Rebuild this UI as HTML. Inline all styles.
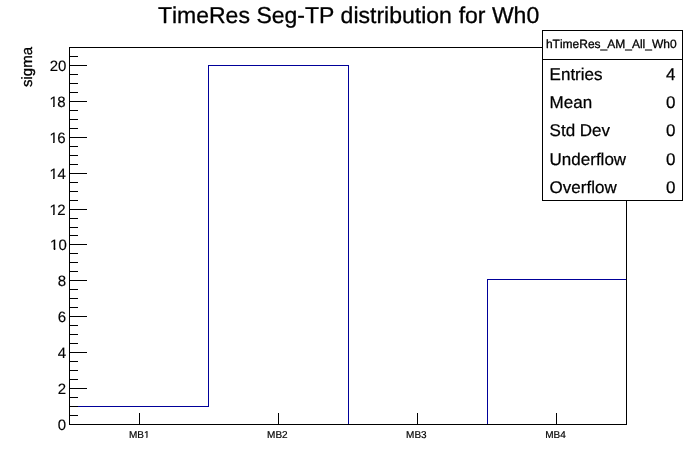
<!DOCTYPE html>
<html lang="en">
<head>
<meta charset="utf-8">
<title>TimeRes Seg-TP distribution for Wh0</title>
<style>
html,body{margin:0;padding:0;background:#fff;}
body{width:696px;height:472px;overflow:hidden;}
svg{display:block;will-change:transform;transform:translateZ(0);}
text{font-family:"Liberation Sans",sans-serif;fill:#000;text-rendering:geometricPrecision;font-kerning:none;stroke:#000;stroke-linejoin:round;stroke-width:0.3px;}
.t23{stroke-width:0.3px;}
.t17{stroke-width:0.25px;}
.t15{stroke-width:0.15px;}
.tsg{stroke-width:0.3px;}
.t12{stroke-width:0.3px;}
.t10{stroke-width:0.2px;}
.ln{fill:#000;shape-rendering:crispEdges;}
.hb{fill:#000099;shape-rendering:crispEdges;}
</style>
</head>
<body>
<svg width="696" height="472" viewBox="0 0 696 472">
<rect x="0" y="0" width="696" height="472" fill="#ffffff"/>
<g class="hb">
<rect x="69" y="406" width="140" height="1"/>
<rect x="208" y="65" width="1" height="342"/>
<rect x="208" y="65" width="141" height="1"/>
<rect x="348" y="65" width="1" height="360"/>
<rect x="487" y="279" width="1" height="146"/>
<rect x="487" y="279" width="140" height="1"/>
</g>
<g class="ln">
<rect x="69" y="47" width="558" height="1"/>
<rect x="69" y="424" width="558" height="1"/>
<rect x="69" y="47" width="1" height="378"/>
<rect x="626" y="47" width="1" height="378"/>
<rect x="69" y="415" width="9" height="1"/>
<rect x="69" y="406" width="9" height="1"/>
<rect x="69" y="397" width="9" height="1"/>
<rect x="69" y="388" width="18" height="1"/>
<rect x="69" y="379" width="9" height="1"/>
<rect x="69" y="370" width="9" height="1"/>
<rect x="69" y="361" width="9" height="1"/>
<rect x="69" y="352" width="18" height="1"/>
<rect x="69" y="343" width="9" height="1"/>
<rect x="69" y="334" width="9" height="1"/>
<rect x="69" y="325" width="9" height="1"/>
<rect x="69" y="316" width="18" height="1"/>
<rect x="69" y="307" width="9" height="1"/>
<rect x="69" y="298" width="9" height="1"/>
<rect x="69" y="289" width="9" height="1"/>
<rect x="69" y="280" width="18" height="1"/>
<rect x="69" y="271" width="9" height="1"/>
<rect x="69" y="262" width="9" height="1"/>
<rect x="69" y="253" width="9" height="1"/>
<rect x="69" y="244" width="18" height="1"/>
<rect x="69" y="235" width="9" height="1"/>
<rect x="69" y="227" width="9" height="1"/>
<rect x="69" y="218" width="9" height="1"/>
<rect x="69" y="209" width="18" height="1"/>
<rect x="69" y="200" width="9" height="1"/>
<rect x="69" y="191" width="9" height="1"/>
<rect x="69" y="182" width="9" height="1"/>
<rect x="69" y="173" width="18" height="1"/>
<rect x="69" y="164" width="9" height="1"/>
<rect x="69" y="155" width="9" height="1"/>
<rect x="69" y="146" width="9" height="1"/>
<rect x="69" y="137" width="18" height="1"/>
<rect x="69" y="128" width="9" height="1"/>
<rect x="69" y="119" width="9" height="1"/>
<rect x="69" y="110" width="9" height="1"/>
<rect x="69" y="101" width="18" height="1"/>
<rect x="69" y="92" width="9" height="1"/>
<rect x="69" y="83" width="9" height="1"/>
<rect x="69" y="74" width="9" height="1"/>
<rect x="69" y="65" width="18" height="1"/>
<rect x="69" y="56" width="9" height="1"/>
<rect x="139" y="413" width="1" height="12"/>
<rect x="278" y="413" width="1" height="12"/>
<rect x="417" y="413" width="1" height="12"/>
<rect x="556" y="413" width="1" height="12"/>
</g>
<rect x="542" y="30" width="141" height="171" fill="#ffffff"/>
<g class="ln">
<rect x="542" y="30" width="141" height="1"/>
<rect x="542" y="200" width="141" height="1"/>
<rect x="542" y="30" width="1" height="171"/>
<rect x="682" y="30" width="1" height="171"/>
<rect x="542" y="59" width="141" height="1"/>
</g>
<text class="t23" y="23" font-size="23"><tspan x="157.9">TimeRes </tspan><tspan x="256.4">Seg-TP </tspan><tspan x="340.6">distribution </tspan><tspan x="458.7">for </tspan><tspan x="491.9">Wh0</tspan></text>
<text class="t12" x="545.9" y="48" font-size="12">hTimeRes_AM_All_Wh0</text>
<text class="t17" x="549.6" y="80" font-size="17">Entries</text><text class="t17" x="675.5" y="80" font-size="17" text-anchor="end">4</text>
<text class="t17" x="549.6" y="108" font-size="17">Mean</text><text class="t17" x="675.5" y="108" font-size="17" text-anchor="end">0</text>
<text class="t17" x="549.6" y="136" font-size="17">Std Dev</text><text class="t17" x="675.5" y="136" font-size="17" text-anchor="end">0</text>
<text class="t17" x="549.6" y="165" font-size="17">Underflow</text><text class="t17" x="675.5" y="165" font-size="17" text-anchor="end">0</text>
<text class="t17" x="549.6" y="193" font-size="17">Overflow</text><text class="t17" x="675.5" y="193" font-size="17" text-anchor="end">0</text>
<defs><clipPath id="nofoot"><path clip-rule="evenodd" d="M0 0H696V472H0ZM51 248H53V249H53.80V251H51ZM56 248H58.00V251H55.27V249H56ZM50 213H53V214H53.10V216H50ZM55 213H57.70V216H54.57V214H55ZM50 177H53V178H53.10V180H50ZM55 177H58.00V180H54.57V178H55ZM50 141H53V142H53.10V144H50ZM55 141H58.00V144H54.57V142H55ZM50 105H53V106H53.10V108H50ZM55 105H58.00V108H54.57V106H55ZM144 437H146.31V439H144ZM147.40 437H150.00V439H147.40Z"/></clipPath></defs>
<g clip-path="url(#nofoot)">
<text class="t15" x="66.2" y="430" font-size="15" text-anchor="end">0</text>
<text class="t15" x="66.0" y="394" font-size="15" text-anchor="end">2</text>
<text class="t15" x="66.2" y="358" font-size="15" text-anchor="end">4</text>
<text class="t15" x="66.0" y="322" font-size="15" text-anchor="end">6</text>
<text class="t15" x="66.0" y="286" font-size="15" text-anchor="end">8</text>
<text class="t15" x="50.1" y="250" dx="0 0.0" font-size="15">10</text>
<text class="t15" x="49.4" y="215" dx="0 -0.5" font-size="15">12</text>
<text class="t15" x="49.4" y="179" dx="0 -0.3" font-size="15">14</text>
<text class="t15" x="49.4" y="143" dx="0 -0.5" font-size="15">16</text>
<text class="t15" x="49.4" y="107" dx="0 -0.6" font-size="15">18</text>
<text class="t15" x="49.8" y="71" dx="0 -0.1" font-size="15">20</text>
<text class="t10" x="128.9" y="438" font-size="10">MB1</text>
<text class="t10" x="267.1" y="438" font-size="10">MB2</text>
<text class="t10" x="406.1" y="438" font-size="10">MB3</text>
<text class="t10" x="545.2" y="438" font-size="10">MB4</text>
</g>
<text class="tsg" transform="translate(32.3,47.0) rotate(-90)" font-size="15" text-anchor="end">sigma</text>
</svg>
</body>
</html>
